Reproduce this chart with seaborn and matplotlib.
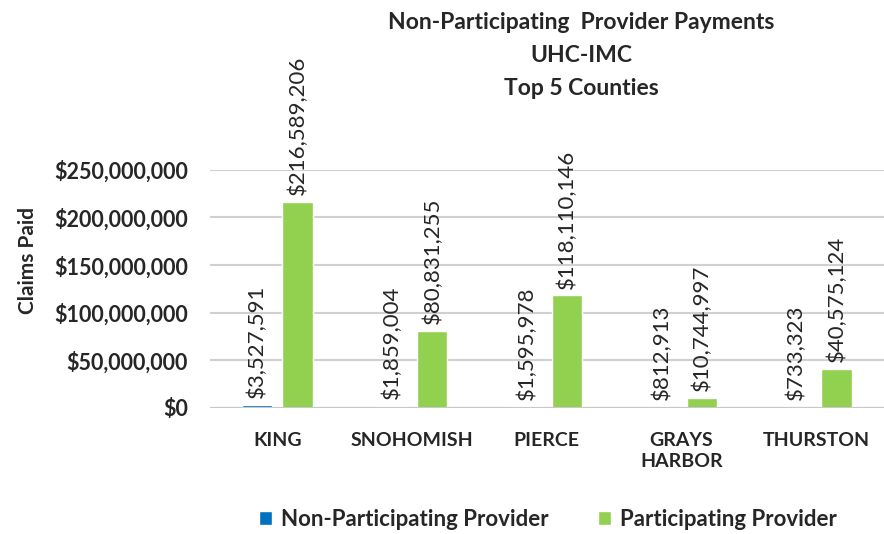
import pandas as pd
import seaborn as sns
import matplotlib

matplotlib.use('Agg')
import matplotlib.pyplot as plt

# data
counties = ["KING", "SNOHOMISH", "PIERCE", "GRAYS\nHARBOR", "THURSTON"]
non_participating = [3527591, 1859004, 1595978, 812913, 733323]
participating = [216589206, 80831255, 118110146, 10744997, 40575124]
series = ["Non-Participating Provider", "Participating Provider"]
colors = ["#0070C0", "#92D050"]

df = pd.DataFrame({
    "County": counties * 2,
    "Provider": [series[0]] * 5 + [series[1]] * 5,
    "Claims": non_participating + participating,
})

sns.set_style("white")
plt.rcParams['font.family'] = ['Lato', 'DejaVu Sans']

fig = plt.figure(figsize=(8.84, 5.34), dpi=100)
ax = fig.add_axes([0.2376, 0.236, 0.762, 0.446])

sns.barplot(data=df, x="County", y="Claims", hue="Provider", hue_order=series,
            palette=colors, width=0.6, gap=0.25, ax=ax, saturation=1, legend=True)

ax.set_ylim(0, 250000000)
ax.set_yticks(range(0, 250000001, 50000000))
ax.set_yticklabels([f"${v:,.0f}" for v in range(0, 250000001, 50000000)],
                   fontsize=15.5, fontweight='bold')
ax.set_xticklabels(counties, fontsize=14, fontweight='bold', linespacing=1.3)
ax.tick_params(axis='y', length=0, pad=16)
ax.tick_params(axis='x', length=0, pad=17)
ax.yaxis.grid(True, color='#d0d0d0', linewidth=1.5)
ax.set_axisbelow(True)
for s in ax.spines.values():
    s.set_visible(False)
ax.axhline(0, color='#c8c8c8', linewidth=1.5, zorder=1)

ax.set_xlabel("")
ax.set_ylabel("Claims Paid", fontsize=15, fontweight='bold')
ax.yaxis.set_label_coords(-0.255, 0.62)

for cont in ax.containers:
    ax.bar_label(cont, labels=[f"${v:,.0f}" for v in cont.datavalues],
                 rotation=90, padding=5, fontsize=16, clip_on=False)

fig.text(0.658, 0.978, "Non-Participating  Provider Payments\nUHC-IMC\nTop 5 Counties",
         ha='center', va='top', fontsize=16.5, fontweight='bold', linespacing=1.72)

handles, labels = ax.get_legend_handles_labels()
ax.get_legend().remove()
fig.legend(handles, labels, loc='center', bbox_to_anchor=(0.62, 0.028), ncol=2,
           frameon=False, prop={'weight': 'bold', 'size': 16},
           handlelength=0.6, handleheight=0.6, handletextpad=0.4, columnspacing=2.2)

fig.savefig("out.png", dpi=100)
